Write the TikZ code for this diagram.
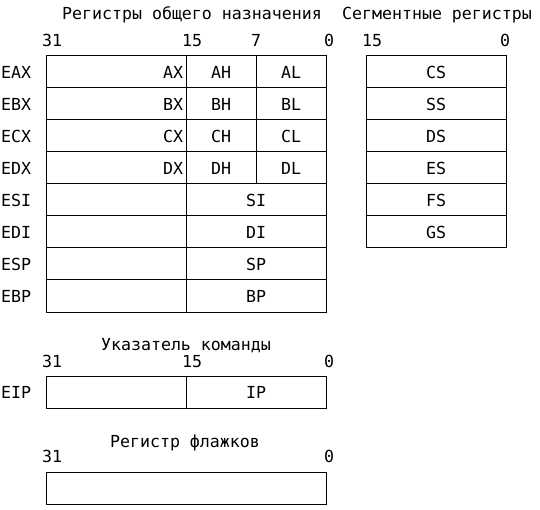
\documentclass[tikz,border=0pt]{standalone}
\usepackage{fontspec}
\newfontfamily\regmono{DejaVu Sans Mono}
\usetikzlibrary{positioning}

\tikzset{
  regtext/.style={font=\regmono\fontsize{16.6pt}{20pt}\selectfont, inner sep=0pt},
  regcell/.style={regtext, draw, line width=1pt, outer sep=0pt, minimum height=32pt, anchor=west},
  widecell/.style={regcell, minimum width=140pt},
  halfcell/.style={regcell, minimum width=70pt},
  reglabel/.style={regtext, anchor=west},
  bitnum/.style={regtext, anchor=base west},
  grouptitle/.style={regtext, anchor=base},
}

\begin{document}
\begin{tikzpicture}[x=1pt, y=-1pt]
  \useasboundingbox (0,0) rectangle (540,510);

  % General purpose registers
  \node[grouptitle] (gptitle) at (192, 20) {Регистры общего назначения};
  \node[bitnum] (gp31) at (42, 47)  {31};
  \node[bitnum] (gp15) at (182, 47) {15};
  \node[bitnum] (gp7)  at (251, 47) {7};
  \node[bitnum] (gp0)  at (324, 47) {0};

  % EAX..EDX: 32 / 16 / 8 / 8 bits
  \foreach \r [count=\i from 0] in {A,B,C,D} {
    \node[reglabel] (lbl\r) at (1, 72+32*\i) {E\r X};
    \node[widecell, text width=134pt, align=right] (\r x) at (46, 72+32*\i) {\r X};
    \node[halfcell, right=0pt of \r x] (\r h) {\r H};
    \node[halfcell, right=0pt of \r h] (\r l) {\r L};
  }

  % ESI..EBP: 32 / 16 bits
  \foreach \p [count=\i from 4] in {SI,DI,SP,BP} {
    \node[reglabel] (lbl\p) at (1, 72+32*\i) {E\p};
    \node[widecell] (hi\p) at (46, 72+32*\i) {};
    \node[widecell, right=0pt of hi\p] (\p) {\p};
  }

  % Segment registers
  \node[grouptitle] (segtitle) at (437, 20) {Сегментные регистры};
  \node[bitnum] (seg15) at (362, 47) {15};
  \node[bitnum] (seg0)  at (500, 47) {0};
  \foreach \s [count=\i from 0] in {CS,SS,DS,ES,FS,GS}
    \node[widecell] (\s) at (366, 72+32*\i) {\s};

  % Instruction pointer
  \node[grouptitle] (iptitle) at (186, 350) {Указатель команды};
  \node[bitnum] (ip31) at (42, 367)  {31};
  \node[bitnum] (ip15) at (182, 367) {15};
  \node[bitnum] (ip0)  at (324, 367) {0};
  \node[reglabel] (lblEIP) at (1, 392) {EIP};
  \node[widecell] (hiIP) at (46, 392) {};
  \node[widecell, right=0pt of hiIP] (IP) {IP};

  % Flags register
  \node[grouptitle] (flagtitle) at (185, 447) {Регистр флажков};
  \node[bitnum] (fl31) at (42, 462)  {31};
  \node[bitnum] (fl0)  at (324, 462) {0};
  \node[regcell, minimum width=280pt] (flags) at (46, 488) {};
\end{tikzpicture}
\end{document}
